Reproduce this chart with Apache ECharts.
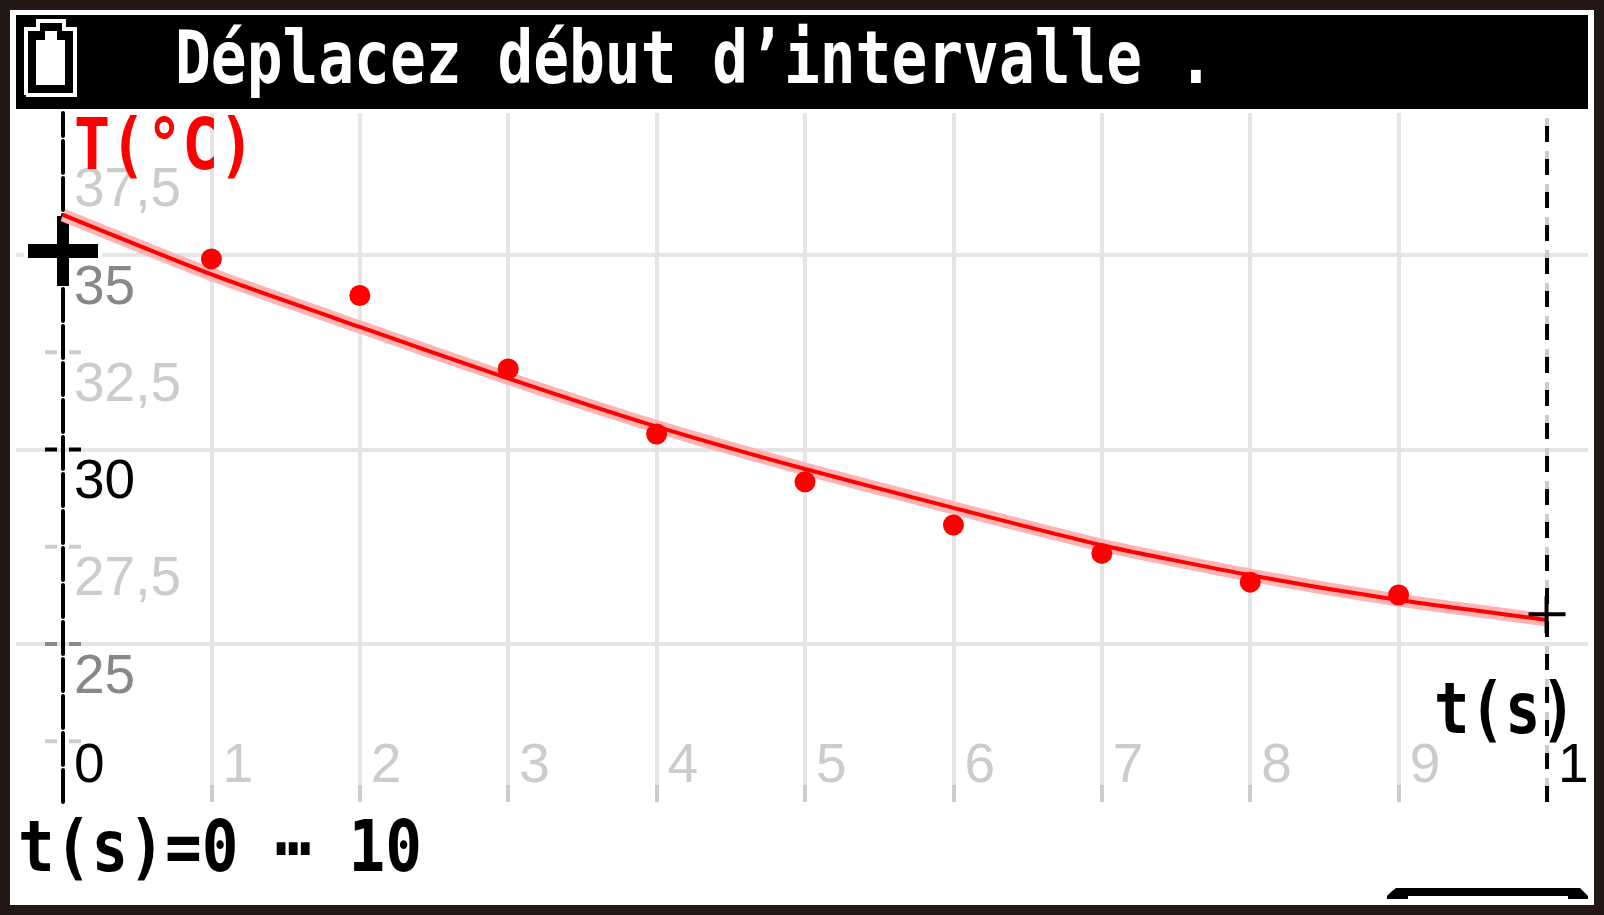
<!DOCTYPE html>
<html><head><meta charset="utf-8"><style>html,body{margin:0;padding:0;background:#231815}#c{width:1604px;height:915px}</style>
<script src="https://cdn.jsdelivr.net/npm/echarts@6/dist/echarts.min.js"></script></head>
<body><div id="c"></div>
<script>
const heading = "Déplacez début d’intervalle .";
const yName = "T(°C)";
const xName = "t(s)";
const footer = "t(s)=0 ⋯ 10";
const xMin = -0.3167, xMax = 10.276, yMin = 20.94, yMax = 38.65;
const times = [1,2,3,4,5,6,7,8,9];
const measured = [34.9,33.96,32.07,30.4,29.17,28.06,27.33,26.59,26.26];
const fitTimes = [0,1,2,3,4,5,6,7,8,9,10];
const fitted = [36.03,34.5,33.15,31.83,30.59,29.5,28.5,27.54,26.77,26.13,25.62];
const xTicks = [1,2,3,4,5,6,7,8,9];
const xLabelValues = [0,1,2,3,4,5,6,7,8,9,10];
const xLabelTexts = ['0','1','2','3','4','5','6','7','8','9','1'];
const xLabelColors = ['#000','#ccc','#ccc','#ccc','#ccc','#ccc','#ccc','#ccc','#ccc','#ccc','#000'];
const yGrid = [25,30,35];
const yLabelValues = [25,27.5,30,32.5,35,37.5];
const yLabelColors = ['#888','#ccc','#000','#ccc','#888','#ccc'];
const yMarkValues = [22.5,25,27.5,30,32.5];
const yMarkColors = ['#ccc','#888','#ccc','#000','#ccc'];
const startCursor = [0,35.1];
const endCursor = [10,25.75];

const mono = '"DejaVu Sans Mono"';
const thin = '"Liberation Sans"';
const chart = echarts.init(document.getElementById('c'));
chart.setOption({
  animation:false,
  backgroundColor:'#231815',
  grid:{left:16,right:16,top:113,bottom:113,containLabel:false},
  xAxis:{type:'value',min:xMin,max:xMax,position:'bottom',
    axisLine:{show:false},
    axisTick:{show:true,inside:true,length:17,customValues:xTicks,lineStyle:{color:'#ccc',width:4}},
    splitLine:{show:true,lineStyle:{color:'#e5e5e5',width:4}},
    axisLabel:{show:true,inside:true,margin:8,customValues:xLabelValues,align:'left',verticalAlign:'bottom',padding:[0,0,0,11],
      fontFamily:thin,fontSize:55,
      color:(v)=>xLabelColors[xLabelValues.indexOf(Number(v))],
      formatter:(v)=>xLabelTexts[xLabelValues.indexOf(Number(v))]}},
  yAxis:{type:'value',min:yMin,max:yMax,
    axisLine:{show:true,onZero:true,lineStyle:{color:'#000',width:4,type:[32,5]}},
    axisTick:{show:false,customValues:yGrid},
    splitLine:{show:true,lineStyle:{color:'#e5e5e5',width:4}},
    axisLabel:{show:true,inside:true,margin:58,customValues:yLabelValues,align:'left',verticalAlign:'top',padding:[6,0,0,0],
      fontFamily:thin,fontSize:55,
      color:(v)=>yLabelColors[yLabelValues.indexOf(Number(v))],
      formatter:(v)=>String(v).replace('.',',')}},
  graphic:[
    {type:'rect',z:-2,silent:true,shape:{x:10,y:10,width:1584,height:895},style:{fill:'#fff'}},
    {type:'rect',z:-1,silent:true,shape:{x:16,y:15,width:1572,height:94},style:{fill:'#000'}},
    {type:'polyline',z:5,silent:true,shape:{points:[[26,95],[26,29],[38,29],[38,21],[64,21],[64,29],[75,29],[75,95],[26,95]]},style:{stroke:'#fff',lineWidth:4,fill:null}},
    {type:'polygon',z:5,silent:true,shape:{points:[[36,85],[36,40],[45,40],[45,31],[57,31],[57,40],[65,40],[65,85]]},style:{fill:'#fff'}},
    {type:'text',z:5,silent:true,x:175,y:27,scaleY:1.24,style:{text:heading,fill:'#fff',font:'bold 59.5px '+mono}},
    {type:'text',z:5,silent:true,x:74,y:114,scaleY:1.2,style:{text:yName,fill:'#f00',font:'bold 60px '+mono}},
    {type:'text',z:5,silent:true,x:1434,y:679,scaleY:1.2,style:{text:xName,fill:'#000',font:'bold 59px '+mono}},
    {type:'text',z:5,silent:true,x:18,y:817,scaleY:1.17,style:{text:footer,fill:'#000',font:'bold 61px '+mono}},
    {type:'polygon',z:5,silent:true,shape:{points:[[1396,888],[1580,888],[1584,892],[1588,896],[1588,899],[1568,899],[1568,896],[1408,896],[1408,899],[1387,899],[1387,896],[1391,892]]},style:{fill:'#000'}}
  ],
  series:[
    {type:'line',name:'end-grey',silent:true,symbol:'none',data:[[10,yMin],[10,yMax]],lineStyle:{color:'#ccc',width:4,type:[24,9]},z:2},
    {type:'line',name:'end-black',silent:true,symbol:'none',data:[[10,yMin],[10,yMax]],lineStyle:{color:'#000',width:4,type:[16,17]},z:2},
    {type:'scatter',name:'marks',silent:true,symbol:'path://M0 0H12V4H0ZM24 0H36V4H24Z',symbolSize:[36,4],
      data:yMarkValues.map((v,i)=>({value:[0,v],itemStyle:{color:yMarkColors[i],opacity:1}})),z:3},
    {type:'scatter',name:'start cursor halo',silent:true,symbol:'rect',symbolSize:[78,22],data:[startCursor],itemStyle:{color:'#fff',opacity:1},z:3},
    {type:'scatter',name:'start cursor',silent:true,symbol:'path://M29 0H41V28H70V42H41V70H29V42H0V28H29Z',symbolSize:[70,70],
      data:[startCursor],itemStyle:{color:'#000',opacity:1},z:3},
    {type:'line',name:'fit halo',silent:true,symbol:'none',smooth:0.2,data:fitTimes.map((t,i)=>[t,fitted[i]]),lineStyle:{color:'#ffb3b3',width:13,opacity:1},z:4},
    {type:'line',name:'fit',silent:true,symbol:'none',smooth:0.2,data:fitTimes.map((t,i)=>[t,fitted[i]]),lineStyle:{color:'#f00',width:4,opacity:1},z:5},
    {type:'scatter',name:'T',silent:true,symbol:'circle',symbolSize:21,data:times.map((t,i)=>[t,measured[i]]),itemStyle:{color:'#f00',opacity:1},z:6},
    {type:'scatter',name:'end cursor',silent:true,symbol:'path://M0 16H16V0H20V16H37V20H20V37H16V20H0Z',symbolSize:[37,37],data:[endCursor],itemStyle:{color:'#000',opacity:1},z:7}
  ]
});
</script></body></html>
